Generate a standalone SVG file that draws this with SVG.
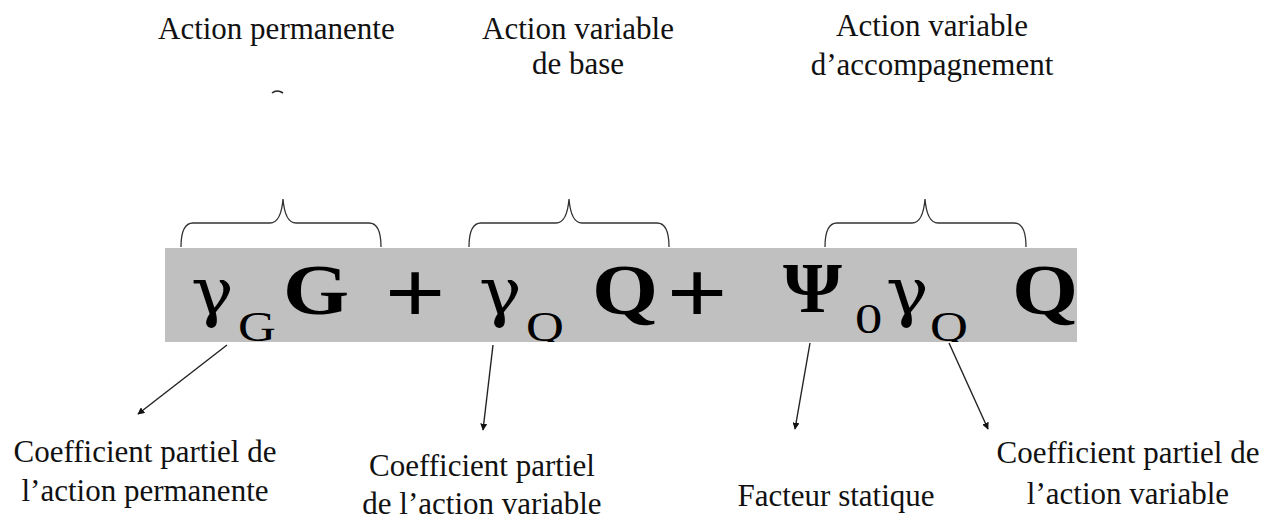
<svg xmlns="http://www.w3.org/2000/svg" width="1264" height="520" viewBox="0 0 1264 520">
<defs>
<style>
.lbl{font-family:"Liberation Serif","Times New Roman",serif;font-size:31px;fill:#111;text-anchor:middle}
.lbl-l{font-family:"Liberation Serif","Times New Roman",serif;font-size:31px;fill:#111}
.gam{font-family:"DejaVu Serif","Liberation Serif",serif;font-size:66px;fill:#000}
.bigb{font-family:"Liberation Serif","Times New Roman",serif;font-size:72px;font-weight:bold;fill:#000}
.plus{font-family:"Liberation Sans","Arial",sans-serif;font-size:86px;fill:#000}
.sub{font-family:"Liberation Serif","Times New Roman",serif;font-size:42px;fill:#000}
.brace{fill:none;stroke:#333;stroke-width:1.3}
.arr{fill:none;stroke:#222;stroke-width:1.4;marker-end:url(#ah)}
</style>
<marker id="ah" viewBox="0 0 10 10" refX="9" refY="5" markerWidth="7" markerHeight="7" orient="auto" markerUnits="userSpaceOnUse">
<path d="M0,0 L10,5 L0,10 z" fill="#111"/>
</marker>
<clipPath id="clipBox"><rect x="165" y="248" width="912" height="94"/></clipPath>
</defs>
<rect width="1264" height="520" fill="#fff"/>

<g id="top-labels">
<text class="lbl-l" x="158" y="39">Action permanente</text>
<text class="lbl" x="578" y="39">Action variable</text>
<text class="lbl" x="578" y="74">de base</text>
<text class="lbl" x="932" y="36">Action variable</text>
<text class="lbl" x="932" y="75">d’accompagnement</text>
<path d="M272,93 Q277,89 283,93" fill="none" stroke="#222" stroke-width="1.6"/>
</g>

<g id="braces">
<path class="brace" d="M181,247 Q181,223 193,223 L270,223 Q281,223 283,199 Q285,223 296,223 L369,223 Q381,223 381,247"/>
<path class="brace" d="M469,247 Q469,223 481,223 L556,223 Q567,223 569,199 Q571,223 582,223 L657,223 Q669,223 669,247"/>
<path class="brace" d="M825,247 Q825,223 837,223 L912,223 Q923,223 925,199 Q927,223 938,223 L1014,223 Q1026,223 1026,247"/>
</g>

<g id="formula">
<rect x="165" y="248" width="912" height="94" fill="#c0c0c0"/>
<g clip-path="url(#clipBox)">
<text class="gam" transform="translate(191,314) scale(1.08,1)">γ</text>
<text class="sub" transform="translate(238,341) scale(1.25,1)">G</text>
<text class="bigb" transform="translate(283,314) scale(1.18,1)">G</text>
<text class="plus" transform="translate(385,322) scale(1.2,1)">+</text>
<text class="gam" transform="translate(479,314) scale(1.08,1)">γ</text>
<text class="sub" transform="translate(526,341) scale(1.25,1)">Q</text>
<text class="bigb" transform="translate(592,314) scale(1.18,1)">Q</text>
<text class="plus" transform="translate(667,322) scale(1.2,1)">+</text>
<text class="bigb" transform="translate(783,312) scale(1.05,1)">Ψ</text>
<text class="sub" transform="translate(855,333) scale(1.3,1)">0</text>
<text class="gam" transform="translate(886,314) scale(1.08,1)">γ</text>
<text class="sub" transform="translate(930,341) scale(1.25,1)">Q</text>
<text class="bigb" transform="translate(1012,314) scale(1.18,1)">Q</text>
</g>
</g>

<g id="connectors">
<line class="arr" x1="227" y1="345" x2="138" y2="414"/>
<line class="arr" x1="493" y1="345" x2="483" y2="430"/>
<line class="arr" x1="810" y1="343" x2="795" y2="429"/>
<line class="arr" x1="949" y1="343" x2="988" y2="429"/>
</g>

<g id="bottom-labels">
<text class="lbl" x="145" y="462">Coefficient partiel de</text>
<text class="lbl" x="145" y="501">l’action permanente</text>
<text class="lbl" x="482" y="476">Coefficient partiel</text>
<text class="lbl" x="482" y="514">de l’action variable</text>
<text class="lbl" x="836" y="506">Facteur statique</text>
<text class="lbl" x="1128" y="463">Coefficient partiel de</text>
<text class="lbl" x="1128" y="504">l’action variable</text>
</g>
</svg>
